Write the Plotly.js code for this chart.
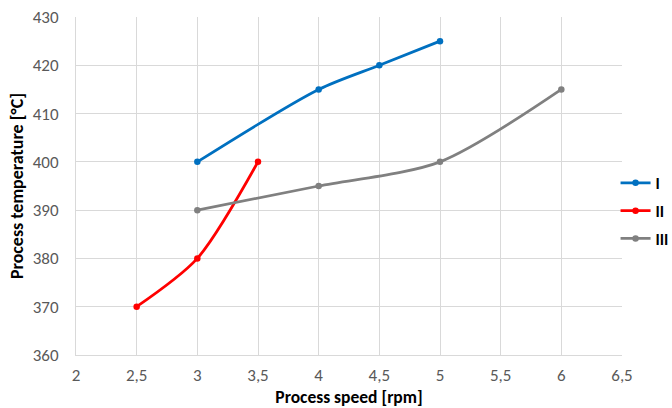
<!DOCTYPE html>
<html><head><meta charset="utf-8">
<script src="https://cdn.plot.ly/plotly-3.0.1.min.js"></script>
<style>html,body{margin:0;padding:0;background:#fff;}#chart{width:672px;height:408px;}</style>
</head><body><div id="chart"></div>
<script>
const seriesNames = ["I", "II", "III"];
const xI = [3, 4, 4.5, 5];
const yI = [400, 415, 420, 425];
const xII = [2.5, 3, 3.5];
const yII = [370, 380, 400];
const xIII = [3, 4, 5, 6];
const yIII = [390, 395, 400, 415];
const xTicks = [2, 2.5, 3, 3.5, 4, 4.5, 5, 5.5, 6, 6.5];
const yTicks = [360, 370, 380, 390, 400, 410, 420, 430];
const colors = ["#0070C0", "#FF0000", "#808080"];

const FONT = "Carlito, Calibri, 'Liberation Sans Narrow', 'Open Sans', sans-serif";
const xs = [xI, xII, xIII], ys = [yI, yII, yIII];
const traces = seriesNames.map((n, i) => ({
  x: xs[i], y: ys[i], name: n, legendgroup: "g" + i, type: "scatter", mode: "lines+markers",
  line: {color: colors[i], width: 2.75, shape: "spline", smoothing: 0.8},
  marker: {color: colors[i], size: 6.5}
}));

const layout = {
  width: 672, height: 408,
  margin: {l: 76, r: 50, t: 17, b: 53, autoexpand: false},
  paper_bgcolor: "#fff", plot_bgcolor: "#fff",
  separators: ", ",
  font: {family: FONT, size: 17, color: "#595959"},
  showlegend: true,
  legend: {xref: "container", x: 0.916, xanchor: "left", yref: "container", y: 0.483, yanchor: "middle",
    font: {family: FONT, size: 16, color: "#000", weight: "bold"},
    itemwidth: 30, tracegroupgap: 4, bgcolor: "rgba(0,0,0,0)"},
  xaxis: {range: [2, 6.5], tickvals: xTicks, ticktext: xTicks.map(v => String(v).replace('.', ',')),
    showgrid: true, gridcolor: "#D9D9D9", gridwidth: 1, zeroline: false,
    showline: true, linecolor: "#D9D9D9", mirror: false, ticks: "", ticklen: 0,
    ticklabelstandoff: 5,
    tickfont: {size: 17, color: "#595959"},
    title: {text: "Process speed [rpm]", font: {size: 17.5, color: "#000", weight: "bold"}, standoff: 8}},
  yaxis: {range: [360, 430], tickvals: yTicks, showgrid: true, gridcolor: "#D9D9D9", gridwidth: 1,
    zeroline: false, showline: true, linecolor: "#D9D9D9", ticks: "",
    ticklabelstandoff: 13,
    tickfont: {size: 17, color: "#595959"},
    title: {text: "Process temperature [°C]", font: {size: 18, color: "#000", weight: "bold"}, standoff: 4}}
};
Plotly.newPlot("chart", traces, layout, {displayModeBar: false, staticPlot: true});
</script></body></html>
